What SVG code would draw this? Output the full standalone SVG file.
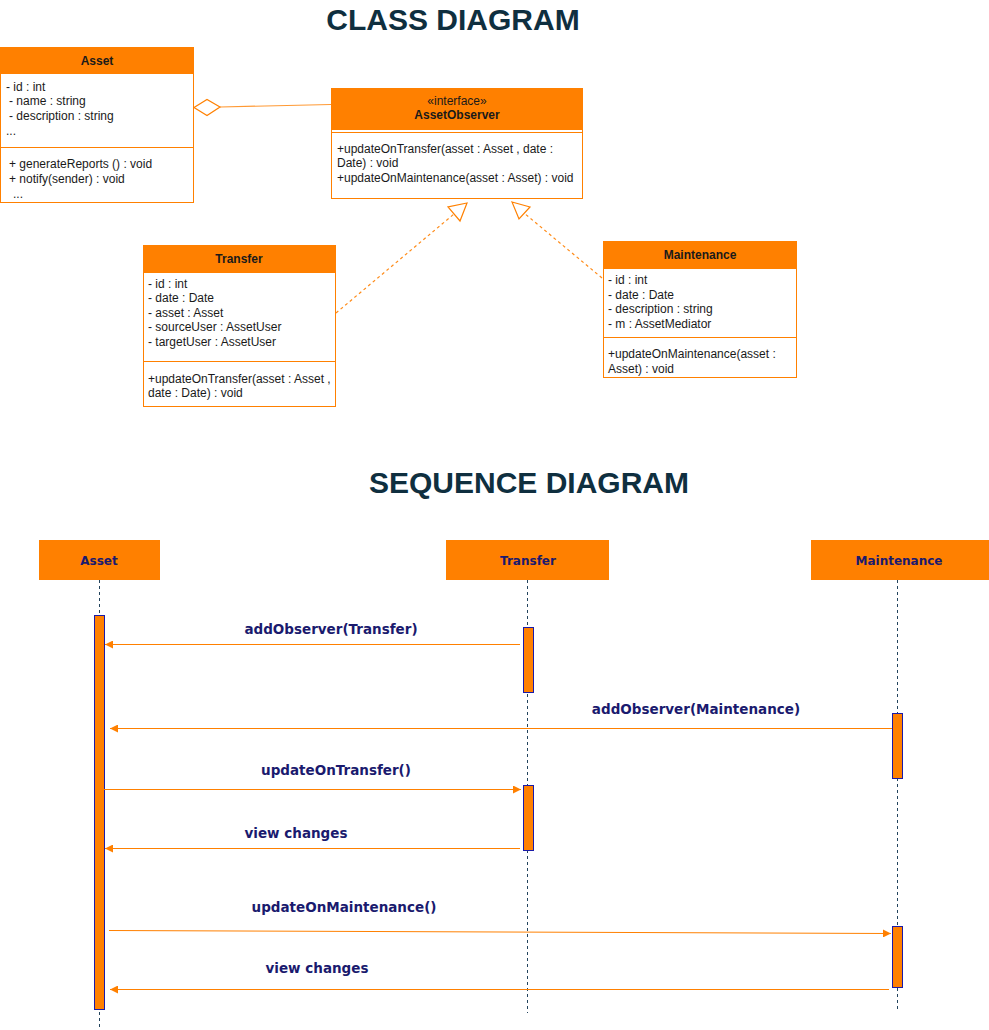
<svg xmlns="http://www.w3.org/2000/svg" width="989" height="1030" viewBox="0 0 989 1030">
<style>
.title{font-family:"Liberation Sans",Arial,sans-serif;font-weight:bold;font-size:30px;fill:#0f2f3f;text-anchor:middle}
.box{fill:#ffffff;stroke:#ff8000;stroke-width:1}
.hdr{fill:#ff8000;stroke:#ff8000;stroke-width:1}
.sep{stroke:#ff8000;stroke-width:1}
.cname{font-family:"Liberation Sans",Arial,sans-serif;font-weight:bold;font-size:12px;fill:#1a1a1a;text-anchor:middle}
.ctxt{font-family:"Liberation Sans",Arial,sans-serif;font-size:12px;fill:#1a1a1a}
.gen{fill:none;stroke:#ff8c1a;stroke-width:1.2;stroke-dasharray:3 3}
.tri{fill:#ffffff;stroke:#ff8000;stroke-width:1.2}
.part{fill:#ff8000;stroke:none}
.pname{font-family:"DejaVu Sans",Verdana,sans-serif;font-weight:bold;font-size:12px;fill:#1a1a6e;text-anchor:middle}
.life{stroke:#23445d;stroke-width:1;stroke-dasharray:3 3}
.act{fill:#ff8000;stroke:#1a1aa8;stroke-width:1}
.msg{stroke:#ff8000;stroke-width:1;fill:none}
.mlbl{font-family:"DejaVu Sans",Verdana,sans-serif;font-weight:bold;font-size:13.5px;fill:#1a1a6e;text-anchor:middle}
</style>
<defs>
<marker id="ah" viewBox="0 0 10 10" refX="10" refY="5" markerWidth="8" markerHeight="8" markerUnits="userSpaceOnUse" orient="auto">
<path d="M0,0 L10,5 L0,10 z" fill="#ff8000"/>
</marker>
</defs>

<text class="title" x="453" y="30">CLASS DIAGRAM</text>
<text class="title" x="529" y="493">SEQUENCE DIAGRAM</text>

<g id="class-asset">
<rect class="box" x="0.5" y="47.5" width="193" height="155"/>
<rect class="hdr" x="0.5" y="47.5" width="193" height="26"/>
<text class="cname" x="97" y="65">Asset</text>
<text class="ctxt" x="6" y="91">- id : int</text>
<text class="ctxt" x="9" y="105">- name : string</text>
<text class="ctxt" x="9" y="120">- description : string</text>
<text class="ctxt" x="6" y="135">...</text>
<line class="sep" x1="0.5" y1="147.5" x2="193.5" y2="147.5"/>
<text class="ctxt" x="9" y="168">+ generateReports () : void</text>
<text class="ctxt" x="9" y="183">+ notify(sender) : void</text>
<text class="ctxt" x="13" y="198">...</text>
</g>

<g id="class-assetobserver">
<rect class="box" x="331.5" y="88.5" width="251" height="110"/>
<rect class="hdr" x="331.5" y="88.5" width="251" height="41"/>
<text class="ctxt" x="457" y="105" text-anchor="middle">«interface»</text>
<text class="cname" x="457" y="119">AssetObserver</text>
<line class="sep" x1="331.5" y1="132.5" x2="582.5" y2="132.5"/>
<text class="ctxt" x="337" y="153">+updateOnTransfer(asset : Asset , date :</text>
<text class="ctxt" x="337" y="167">Date) : void</text>
<text class="ctxt" x="337" y="182">+updateOnMaintenance(asset : Asset) : void</text>
</g>

<g id="class-transfer">
<rect class="box" x="143.5" y="245.5" width="192" height="161"/>
<rect class="hdr" x="143.5" y="245.5" width="192" height="27"/>
<text class="cname" x="239" y="263">Transfer</text>
<text class="ctxt" x="148" y="288">- id : int</text>
<text class="ctxt" x="148" y="302">- date : Date</text>
<text class="ctxt" x="148" y="317">- asset : Asset</text>
<text class="ctxt" x="148" y="331">- sourceUser : AssetUser</text>
<text class="ctxt" x="148" y="346">- targetUser : AssetUser</text>
<line class="sep" x1="143.5" y1="361.5" x2="335.5" y2="361.5"/>
<text class="ctxt" x="148" y="383">+updateOnTransfer(asset : Asset ,</text>
<text class="ctxt" x="148" y="397">date : Date) : void</text>
</g>

<g id="class-maintenance">
<rect class="box" x="603.5" y="241.5" width="193" height="136"/>
<rect class="hdr" x="603.5" y="241.5" width="193" height="27"/>
<text class="cname" x="700" y="259">Maintenance</text>
<text class="ctxt" x="608" y="284">- id : int</text>
<text class="ctxt" x="608" y="299">- date : Date</text>
<text class="ctxt" x="608" y="313">- description : string</text>
<text class="ctxt" x="608" y="328">- m : AssetMediator</text>
<line class="sep" x1="603.5" y1="337.5" x2="796.5" y2="337.5"/>
<text class="ctxt" x="608" y="358">+updateOnMaintenance(asset :</text>
<text class="ctxt" x="608" y="373">Asset) : void</text>
</g>

<g id="class-connectors">
<line x1="220" y1="107" x2="331" y2="104.5" stroke="#ff9933" stroke-width="1.2"/>
<polygon points="194,107.5 207,99.5 220,107 207,115.5" fill="#ffffff" stroke="#ff8000" stroke-width="1.2"/>
<line class="gen" x1="336" y1="313" x2="454" y2="214"/>
<polygon class="tri" points="467,203 448,207 460,221"/>
<line class="gen" x1="602" y1="278" x2="524" y2="213"/>
<polygon class="tri" points="512,202 530,207 519,219"/>
</g>

<g id="seq-asset">
<rect class="part" x="39" y="540" width="121" height="40"/>
<text class="pname" x="99" y="565">Asset</text>
</g>
<g id="seq-transfer">
<rect class="part" x="446" y="540" width="163" height="40"/>
<text class="pname" x="528" y="565">Transfer</text>
</g>
<g id="seq-maintenance">
<rect class="part" x="811" y="540" width="178" height="40"/>
<text class="pname" x="899" y="565">Maintenance</text>
</g>

<g id="lifelines">
<line class="life" x1="99.5" y1="580" x2="99.5" y2="1028"/>
<line class="life" x1="527.5" y1="580" x2="527.5" y2="1013"/>
<line class="life" x1="897.5" y1="580" x2="897.5" y2="1010"/>
</g>

<g id="activations">
<rect class="act" x="94.5" y="615.5" width="10" height="394"/>
<rect class="act" x="523.5" y="627.5" width="10" height="65"/>
<rect class="act" x="892.5" y="713.5" width="10" height="65"/>
<rect class="act" x="523.5" y="785.5" width="10" height="65"/>
<rect class="act" x="892.5" y="926.5" width="10" height="61"/>
</g>

<g id="messages">
<line class="msg" x1="520" y1="644.5" x2="105" y2="644.5" marker-end="url(#ah)"/>
<text class="mlbl" x="331" y="634">addObserver(Transfer)</text>
<line class="msg" x1="892" y1="728.5" x2="110" y2="728.5" marker-end="url(#ah)"/>
<text class="mlbl" x="696" y="714">addObserver(Maintenance)</text>
<line class="msg" x1="104" y1="789.5" x2="521" y2="789.5" marker-end="url(#ah)"/>
<text class="mlbl" x="336" y="775">updateOnTransfer()</text>
<line class="msg" x1="520" y1="848.5" x2="105" y2="848.5" marker-end="url(#ah)"/>
<text class="mlbl" x="296" y="838">view changes</text>
<line class="msg" x1="109" y1="930.5" x2="891" y2="933.5" marker-end="url(#ah)"/>
<text class="mlbl" x="344" y="912">updateOnMaintenance()</text>
<line class="msg" x1="889" y1="989.5" x2="110" y2="989.5" marker-end="url(#ah)"/>
<text class="mlbl" x="317" y="973">view changes</text>
</g>
</svg>
